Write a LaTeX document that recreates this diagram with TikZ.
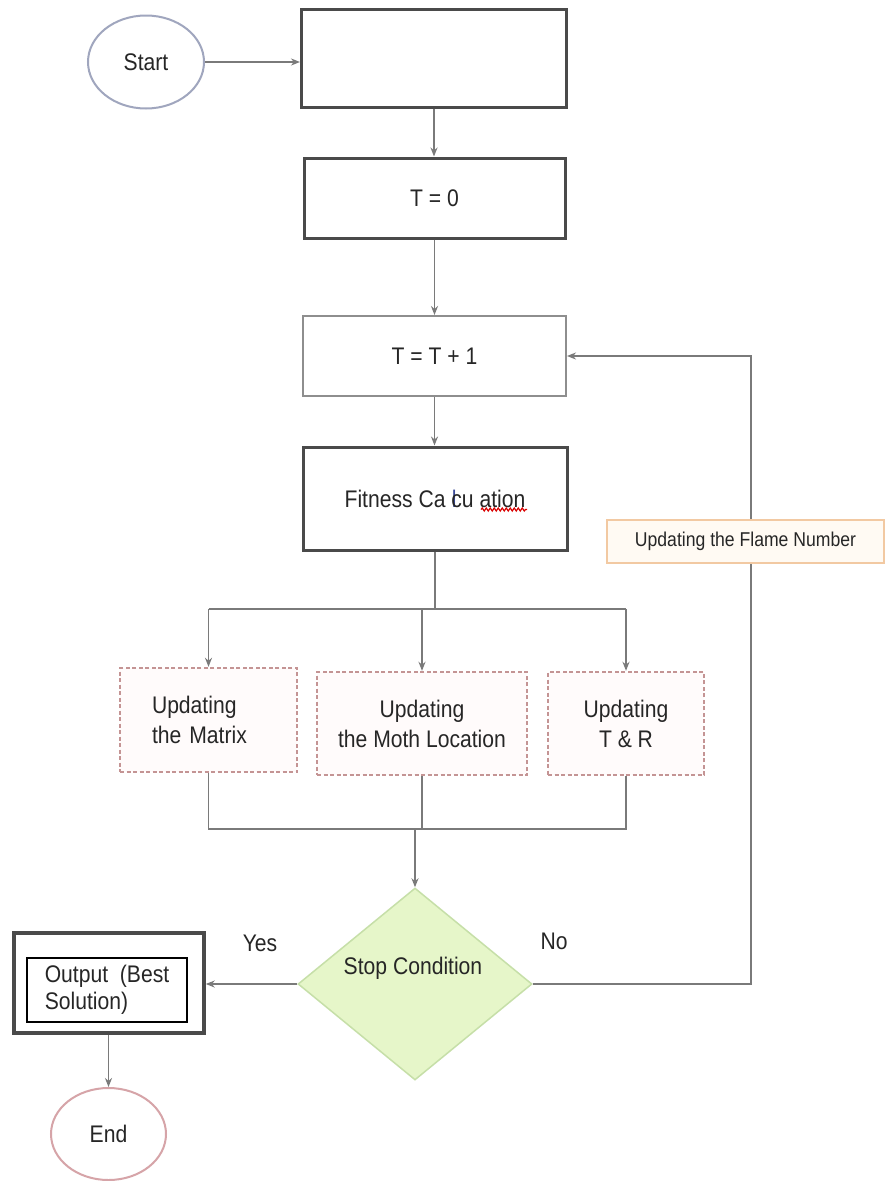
\documentclass[tikz,border=0pt]{standalone}
\usepackage{fontspec}
\setmainfont{Liberation Sans}[FakeStretch=0.88]
\usetikzlibrary{shapes.geometric, arrows.meta, decorations.pathmorphing}
\definecolor{linegray}{HTML}{7A7A7A}
\definecolor{boxdark}{HTML}{4A4A4A}
\definecolor{thingray}{HTML}{8E8E8E}
\definecolor{pinkd}{HTML}{C49494}
\definecolor{pinkf}{HTML}{FFFBFB}
\definecolor{orangd}{HTML}{F2C9A2}
\definecolor{orangf}{HTML}{FFFAF3}
\definecolor{dfill}{HTML}{E6F6C9}
\definecolor{ddraw}{HTML}{C6DFA8}
\definecolor{startd}{HTML}{A0A6BE}
\definecolor{endd}{HTML}{D6A4A8}
\definecolor{txtc}{HTML}{262626}
\definecolor{curblue}{HTML}{3A4A9A}
\begin{document}
\begin{tikzpicture}[x=1pt,y=-1pt,
  every node/.style={font=\fontsize{24}{30}\selectfont, text=txtc},
  conn/.style={draw=linegray, line width=1.6pt},
  arr/.style={conn, -{Stealth[length=9pt,width=7pt]}},
  thickbox/.style={draw=boxdark, line width=3pt, fill=white, inner sep=0pt},
  thinbox/.style={draw=thingray, line width=2pt, fill=white, inner sep=0pt},
  dashbox/.style={draw=pinkd, line width=2.4pt, dash pattern=on 4pt off 2.5pt, fill=pinkf, inner sep=0pt},
  oval/.style={ellipse, line width=2pt, fill=white, inner sep=0pt},
  lbl/.style={inner sep=0pt}
]
\fill[white] (0,0) rectangle (886,1181);
\useasboundingbox (0,0) rectangle (886,1181);

% nodes
\node[oval, draw=startd, minimum width=116pt, minimum height=93pt] (start) at (146,62) {Start};
\node[thickbox, minimum width=265pt, minimum height=98pt] (init) at (434,58) {};
\node[thickbox, minimum width=261pt, minimum height=80pt] (t0) at (434.5,198) {T = 0};
\node[thinbox, minimum width=263pt, minimum height=80pt] (t1) at (434.5,356) {T = T + 1};
\node[thickbox, minimum width=264pt, minimum height=103pt] (fit) at (435,498.5)
  {Fitness Ca \rlap{\kern0.5pt\textcolor{curblue}{l}}cu ation};

\node[dashbox, inner xsep=32pt, text width=113pt, align=left, minimum height=104pt] (mat) at (208.5,720)
  {Updating\\the Matrix};
\node[dashbox, align=center, minimum width=210pt, minimum height=103pt] (moth) at (422,723.5)
  {Updating\\the Moth Location};
\node[dashbox, align=center, minimum width=156pt, minimum height=103pt] (tr) at (626,723.5)
  {Updating\\T \& R};

\node[diamond, draw=ddraw, fill=dfill, line width=1.5pt, minimum width=234pt, minimum height=192pt, inner sep=0pt] (stop) at (415,984) {};
\node[lbl] (stoptxt) at (413,968) {Stop Condition};
\node[lbl] (yes) at (260,943) {Yes};
\node[lbl] (no) at (554,941) {No};

\node[thickbox, line width=3.5pt, minimum width=190pt, minimum height=100pt] (out) at (109,983) {};
\node[draw=black, line width=1.5pt, fill=white, minimum width=160pt, minimum height=64pt, inner sep=0pt,
  align=left, font=\fontsize{24}{27}\selectfont] (outin) at (107,990) {Output\ \ (Best\\Solution)};

\node[oval, draw=endd, minimum width=115pt, minimum height=92pt] (end) at (108.5,1134) {End};

% helper coordinates
\coordinate (br) at (436,609);
\coordinate (mg) at (415,829);
\coordinate (fbx) at (751,356);

% connectors
\draw[arr] (start.east) -- (start.east -| init.west);
\draw[arr] (init.south) -- (init.south |- t0.north);
\draw[arr] (t0.south) -- (t0.south |- t1.north);
\draw[arr] (t1.south) -- (t1.south |- fit.north);

\draw[conn] (fit.south) -- (fit.south |- br);
\draw[conn] (mat.north |- br) -- (tr.north |- br);
\draw[arr] (mat.north |- br) -- (mat.north);
\draw[arr] (moth.north |- br) -- (moth.north);
\draw[arr] (tr.north |- br) -- (tr.north);

\draw[conn] (mat.south) -- (mat.south |- mg) -- (tr.south |- mg) -- (tr.south);
\draw[conn] (moth.south) -- (moth.south |- mg);
\draw[arr] (stop.north |- mg) -- (stop.north);

\draw[arr] (stop.west) -- (stop.west -| out.east);
\draw[arr] (end.north |- out.south) -- (end.north);

\draw[arr] (stop.east) -- (stop.east -| fbx) -- (fbx) -- (t1.east |- fbx);

% flame box drawn over the feedback line
\node[draw=orangd, fill=orangf, line width=2pt, minimum width=277pt, minimum height=43pt, inner sep=0pt,
  font=\fontsize{20}{24}\selectfont] (flame) at (745.5,541.5) {Updating the Flame Number};

% spell-check squiggle under "ation"
\draw[red!85!black, line width=1.2pt, decorate, decoration={snake, amplitude=1.5pt, segment length=4pt}]
  ([xshift=46pt,yshift=-11pt]fit.center) -- ([xshift=92pt,yshift=-11pt]fit.center);
\end{tikzpicture}
\end{document}
